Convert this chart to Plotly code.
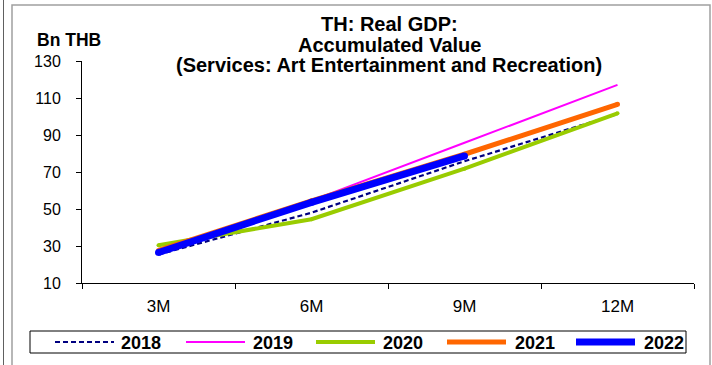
import plotly.graph_objects as go

categories = ["3M", "6M", "9M", "12M"]
series_names = ["2018", "2019", "2020", "2021", "2022"]
v2018 = [25.4, 48.0, 75.8, 101.3]
v2019 = [27.5, 54.5, 85.8, 117.1]
v2020 = [30.4, 44.5, 71.8, 101.7]
v2021 = [27.6, 54.4, 79.6, 106.6]
v2022 = [26.5, 53.6, 78.7]
y_ticks = [10, 30, 50, 70, 90, 110, 130]
title_lines = ["TH: Real GDP:", "Accumulated Value",
               "(Services: Art Entertainment and Recreation)"]
unit_label = "Bn THB"

values = [v2018, v2019, v2020, v2021, v2022]
colors = ["#000080", "#FF00FF", "#99CC00", "#FF6600", "#0000FF"]
widths = [2.2, 2, 4, 5, 7]
dashes = ["5px,3px", "solid", "solid", "solid", "solid"]

W, H = 712, 365
L, R, T, B = 82, 694, 61, 283
FONT = "Arial, Liberation Sans, sans-serif"

def px(x):
    return (x - L) / (R - L)

def py(y):
    return (B - y) / (B - T)

fig = go.Figure()
for name, vals, c, w, d in zip(series_names, values, colors, widths, dashes):
    mode = "lines" if w < 3 else "lines+markers"
    fig.add_trace(go.Scatter(
        x=categories[:len(vals)], y=vals, name=name, mode=mode,
        line=dict(color=c, width=w, dash=d),
        marker=dict(color=c, size=w, line=dict(width=0)),
        showlegend=False, hoverinfo="skip",
    ))

shapes = []
# outer frame
shapes.append(dict(type="rect", xref="paper", yref="paper",
                   x0=px(12), x1=px(710), y0=py(420), y1=py(5),
                   line=dict(color="#a0a0a0", width=1.5), layer="below"))
shapes.append(dict(type="line", xref="paper", yref="paper",
                   x0=px(3.5), x1=px(3.5), y0=py(0), y1=py(365),
                   line=dict(color="#606060", width=1)))
# legend box
shapes.append(dict(type="rect", xref="paper", yref="paper",
                   x0=px(30), x1=px(686), y0=py(353), y1=py(331),
                   line=dict(color="black", width=1), fillcolor="white"))
annotations = []
line_x0 = [55, 186, 316, 447, 576]
text_x0 = [120, 252, 382, 514, 643]
ly = 342
for i, name in enumerate(series_names):
    shapes.append(dict(type="line", xref="paper", yref="paper",
                       x0=px(line_x0[i]), x1=px(line_x0[i] + 59),
                       y0=py(ly), y1=py(ly),
                       line=dict(color=colors[i], width=widths[i],
                                 dash=dashes[i])))
    annotations.append(dict(xref="paper", yref="paper", x=px(text_x0[i] - 1),
                            y=py(ly + 1), xanchor="left", yanchor="middle",
                            text="<b>" + name + "</b>", showarrow=False,
                            font=dict(family=FONT, size=18, color="black")))

annotations.append(dict(xref="paper", yref="paper", x=px(35), y=py(40),
                        xanchor="left", yanchor="middle",
                        text="<b>" + unit_label + "</b>", showarrow=False,
                        font=dict(family=FONT, size=17.5, color="black")))

title_y = [24, 44.5, 65]
for t, yy in zip(title_lines, title_y):
    annotations.append(dict(xref="paper", yref="paper", x=px(389), y=py(yy),
                            xanchor="center", yanchor="middle",
                            text="<b>" + t + "</b>", showarrow=False,
                            font=dict(family=FONT, size=20, color="black")))

fig.update_layout(
    width=W, height=H,
    margin=dict(l=L, r=W - R, t=T, b=H - B),
    paper_bgcolor="white", plot_bgcolor="white",
    showlegend=False,
    shapes=shapes,
    annotations=annotations,
    xaxis=dict(
        type="category", categoryorder="array", categoryarray=categories,
        range=[-0.5, 3.5], tickson="boundaries",
        showline=True, linecolor="black", linewidth=1,
        ticks="outside", ticklen=5, tickcolor="black",
        ticklabelstandoff=8,
        showgrid=False, zeroline=False,
        tickfont=dict(family=FONT, size=17, color="black"),
    ),
    yaxis=dict(
        range=[10, 130], tickvals=y_ticks,
        showline=True, linecolor="black", linewidth=1,
        ticks="outside", ticklen=5, tickcolor="black",
        ticklabelstandoff=12,
        showgrid=False, zeroline=False,
        tickfont=dict(family=FONT, size=16, color="black"),
    ),
)

fig.write_html("out.html", config={"displayModeBar": False},
               post_script="document.body.style.margin='0px';document.body.style.overflow='hidden';")
